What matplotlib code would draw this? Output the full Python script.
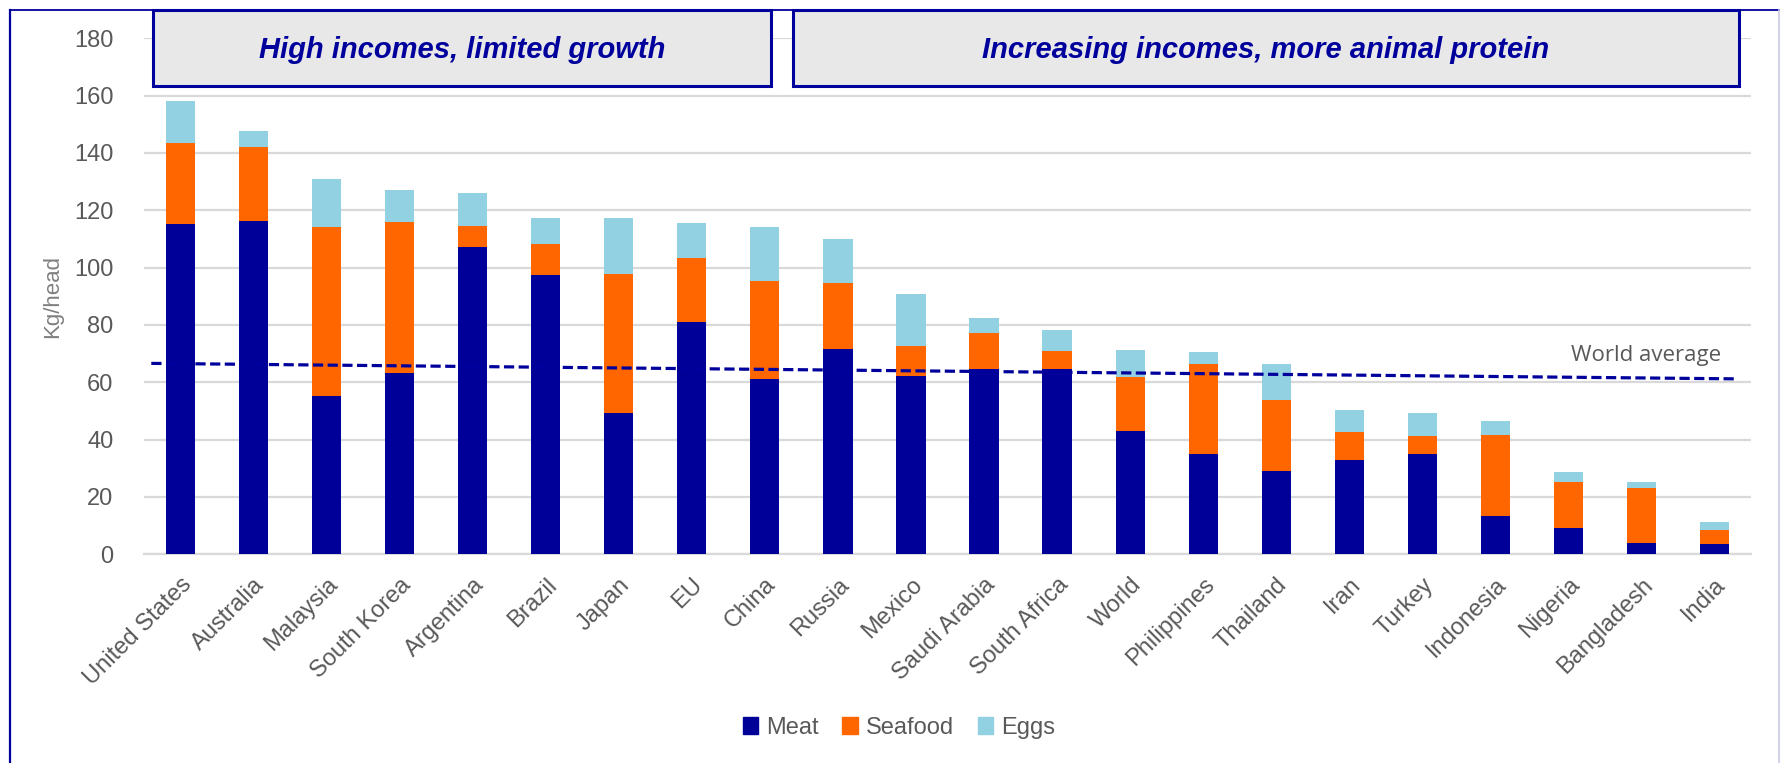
import matplotlib
matplotlib.use("Agg")
import matplotlib.pyplot as plt
import numpy as np
from matplotlib.patches import Rectangle, Patch
from matplotlib.lines import Line2D

# Annual consumption of animal protein, kg per head
countries = ['United States', 'Australia', 'Malaysia', 'South Korea', 'Argentina',
             'Brazil', 'Japan', 'EU', 'China', 'Russia', 'Mexico', 'Saudi Arabia',
             'South Africa', 'World', 'Philippines', 'Thailand', 'Iran', 'Turkey',
             'Indonesia', 'Nigeria', 'Bangladesh', 'India']
meat = [115.1, 116.1, 55.3, 63.2, 107.1, 97.6, 49.4, 81.2, 61.1, 71.7, 62.1,
        64.7, 64.8, 43.1, 35.1, 29.2, 32.8, 35.1, 13.5, 9.1, 3.9, 3.6]
seafood = [28.4, 26.0, 58.8, 52.8, 7.5, 10.7, 48.5, 22.3, 34.4, 22.9, 10.5,
           12.5, 6.1, 18.9, 31.4, 24.7, 9.9, 6.1, 28.1, 16.1, 19.2, 4.9]
eggs = [14.8, 5.5, 16.7, 11.0, 11.5, 9.0, 19.3, 12.1, 18.7, 15.4, 18.3,
        5.4, 7.4, 9.2, 4.1, 12.5, 7.6, 8.1, 4.9, 3.5, 2.1, 2.8]
world_avg_ends = [66.6, 61.2]
y_ticks = [0, 20, 40, 60, 80, 100, 120, 140, 160, 180]
group_titles = ['High incomes, limited growth', 'Increasing incomes, more animal protein']

C_MEAT = '#000099'
C_SEA = '#FF6600'
C_EGG = '#92D1E2'
NAVY = '#00009C'
GREY_TXT = '#595959'
GRID = '#D9D9D9'

W, H = 1780, 763
fig = plt.figure(figsize=(W / 100, H / 100), dpi=100)
fig.patch.set_facecolor('white')

ax = fig.add_axes([144 / W, 1 - 554.3 / H, (1751 - 144) / W, (554.3 - 38.3) / H])
x = np.arange(len(countries))
meat_a = np.array(meat)
sea_a = np.array(seafood)
egg_a = np.array(eggs)
bw = 0.4
ax.bar(x, meat_a, bw, color=C_MEAT, label='Meat', zorder=3)
ax.bar(x, sea_a, bw, bottom=meat_a, color=C_SEA, label='Seafood', zorder=3)
ax.bar(x, egg_a, bw, bottom=meat_a + sea_a, color=C_EGG, label='Eggs', zorder=3)

# World average reference line
ax.plot([-0.4, len(countries) - 0.7], world_avg_ends, color=NAVY, lw=2.3,
        linestyle=(0, (3.2, 1.4)), zorder=5)
ax.text(20.06, 69.5, 'World average', ha='center', va='center',
        fontsize=16, color=GREY_TXT, family='Open Sans', zorder=6)

ax.set_xlim(-0.5, len(countries) - 0.5)
ax.set_ylim(0, 180)
ax.set_yticks(y_ticks)
ax.set_yticklabels([str(v) for v in y_ticks], fontsize=17, color=GREY_TXT,
                   family='Liberation Sans')
ax.set_xticks(x)
ax.set_xticklabels(countries, rotation=45, ha='right', rotation_mode='anchor',
                   fontsize=17, color=GREY_TXT, family='Liberation Sans')
ax.tick_params(axis='both', length=0)
ax.tick_params(axis='y', pad=22)
ax.tick_params(axis='x', pad=14)
ax.grid(axis='y', color=GRID, lw=1.6, zorder=0)
ax.set_axisbelow(True)
for s in ['top', 'right', 'left']:
    ax.spines[s].set_visible(False)
ax.spines['bottom'].set_color(GRID)
ax.spines['bottom'].set_linewidth(1.6)
ax.set_ylabel('Kg/head', fontsize=16, color='#808080', family='Liberation Sans',
              labelpad=8)

# Group header boxes
boxes = [(153, 771), (793, 1739)]
for (x0, x1), title in zip(boxes, group_titles):
    fig.add_artist(Rectangle((x0 / W, 1 - 86 / H), (x1 - x0) / W, 76 / H,
                             transform=fig.transFigure, facecolor='#E8E8E8',
                             edgecolor=NAVY, lw=2.2, zorder=10))
    fig.text((x0 + x1) / 2 / W, 1 - 50 / H, title, ha='center', va='center',
             fontsize=21, fontweight='bold', fontstyle='italic', color=NAVY,
             family=['Liberation Sans Narrow', 'Liberation Sans'], zorder=11)

# Outer frame
fig.add_artist(Line2D([9.5 / W, 9.5 / W], [0, 1 - 9.5 / H], transform=fig.transFigure,
                      color=NAVY, lw=1.6))
fig.add_artist(Line2D([9.5 / W, 1779 / W], [1 - 9.5 / H, 1 - 9.5 / H],
                      transform=fig.transFigure, color=NAVY, lw=1.3))
fig.add_artist(Line2D([1778.5 / W, 1778.5 / W], [0, 1 - 9.5 / H],
                      transform=fig.transFigure, color='#C8C8E6', lw=1.2))

handles = [Patch(color=C_MEAT), Patch(color=C_SEA), Patch(color=C_EGG)]
fig.legend(handles, ['Meat', 'Seafood', 'Eggs'], loc='center',
           bbox_to_anchor=(899 / W, 1 - 728 / H), ncol=3, frameon=False,
           prop={'family': 'Liberation Sans', 'size': 17},
           labelcolor=GREY_TXT, handlelength=0.65, handleheight=0.7,
           handletextpad=0.35, columnspacing=1.0)

fig.savefig('out.png', dpi=100, facecolor='white')
